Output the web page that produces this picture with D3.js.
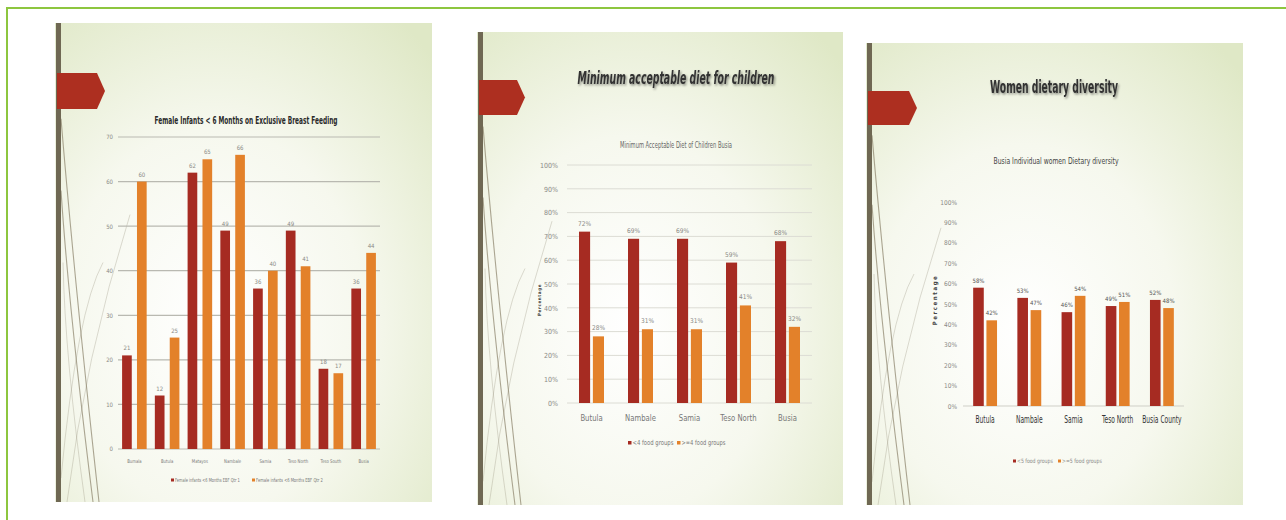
<!DOCTYPE html>
<html><head><meta charset="utf-8">
<script src="https://cdn.jsdelivr.net/npm/d3@7"></script>
<style>html,body{margin:0;padding:0;background:#fff;}svg{display:block;}</style>
</head><body>
<svg id="c" width="1286" height="520"></svg>
<script>
// ---------- DATA ----------
// Panel 1: Female Infants < 6 Months on Exclusive Breast Feeding
const p1Title = "Female Infants < 6 Months on Exclusive Breast Feeding";
const p1Categories = ["Bumala","Butula","Matayos","Nambale","Samia","Teso North","Teso South","Busia"];
const p1Qtr1 = [21,12,62,49,36,49,18,36];
const p1Qtr2 = [60,25,65,66,40,41,17,44];
const p1Ticks = [0,10,20,30,40,50,60,70];
const p1Series = ["Female infants <6 Months EBF Qtr 1","Female infants <6 Months EBF Qtr 2"];

// Panel 2: Minimum acceptable diet for children
const p2SlideTitle = "Minimum acceptable diet for children";
const p2Title = "Minimum Acceptable Diet of Children Busia";
const p2Categories = ["Butula","Nambale","Samia","Teso North","Busia"];
const p2Below = [0.72,0.69,0.69,0.59,0.68];
const p2Above = [0.28,0.31,0.31,0.41,0.32];
const p2Ticks = [0,0.1,0.2,0.3,0.4,0.5,0.6,0.7,0.8,0.9,1.0];
const p2Series = ["<4 food groups",">=4 food groups"];

// Panel 3: Women dietary diversity
const p3SlideTitle = "Women dietary diversity";
const p3Title = "Busia Individual women Dietary diversity";
const p3Categories = ["Butula","Nambale","Samia","Teso North","Busia County"];
const p3Below = [0.58,0.53,0.46,0.49,0.52];
const p3Above = [0.42,0.47,0.54,0.51,0.48];
const p3Ticks = [0,0.1,0.2,0.3,0.4,0.5,0.6,0.7,0.8,0.9,1.0];
const p3Series = ["<5 food groups",">=5 food groups"];

const axisTitle = "Percentage";
const colors = ["#a62b22","#e3812a"];

// ---------- DRAW ----------
const NARROW = "'Liberation Sans Narrow','DejaVu Sans Condensed','Liberation Sans',sans-serif";
const svg = d3.select("#c");
const defs = svg.append("defs");
const rg = defs.append("radialGradient").attr("id","slideBg")
  .attr("cx","42%").attr("cy","62%").attr("r","80%");
rg.append("stop").attr("offset","0%").attr("stop-color","#ffffff");
rg.append("stop").attr("offset","50%").attr("stop-color","#f6f8ee");
rg.append("stop").attr("offset","100%").attr("stop-color","#dfe8c6");
const sh = defs.append("filter").attr("id","shadow").attr("x","-5%").attr("y","-20%").attr("width","110%").attr("height","150%");
sh.append("feDropShadow").attr("dx",1.2).attr("dy",1.5).attr("stdDeviation",0.9).attr("flood-color","#000").attr("flood-opacity",0.45);

// green frame
svg.append("path").attr("d","M7,520 V8 H1286").attr("fill","none")
  .attr("stroke","#8dc63f").attr("stroke-width",2);

function slide(x,y,w,h,tabY,tabH,tabW){
  const g = svg.append("g");
  g.append("rect").attr("x",x).attr("y",y).attr("width",w).attr("height",h).attr("fill","url(#slideBg)");
  const curves = [
    `M${x+44},${y+h} Q${x+20},${y+h*0.55} ${x+6},${y+h*0.2}`,
    `M${x+38},${y+h} Q${x+14},${y+h*0.6} ${x+6},${y+h*0.35}`,
    `M${x+12},${y+h} Q${x+30},${y+h*0.7} ${x+75},${y+h*0.4}`,
    `M${x+6},${y+h*0.95} Q${x+22},${y+h*0.6} ${x+48},${y+h*0.5}`,
    `M${x+30},${y+h} Q${x+10},${y+h*0.7} ${x+8},${y+h*0.5}`
  ];
  g.selectAll("path.sw").data(curves).join("path").attr("class","sw")
    .attr("d",d=>d).attr("fill","none").attr("stroke","#8a826a")
    .attr("stroke-width",(d,i)=>i<2?1.1:0.7).attr("opacity",(d,i)=>i<2?0.7:0.4);
  g.append("rect").attr("x",x+1).attr("y",y).attr("width",5).attr("height",h).attr("fill","#6f6853");
  g.append("path")
    .attr("d",`M${x+2},${tabY} H${x+tabW-8} L${x+tabW},${tabY+tabH/2} L${x+tabW-8},${tabY+tabH} H${x+2} Z`)
    .attr("fill","#ad2f20");
}

slide(55,23,377,479,73,36,50);
slide(477,32,366,473,80,35,48);
slide(866,43,377,462,91,34,51);

function barChart(o){
  const g = svg.append("g");
  const y = d3.scaleLinear().domain(o.yDomain).range(o.yRange);
  const x0 = d3.scaleBand().domain(o.categories).range(o.xRange)
    .paddingInner(o.padIn).paddingOuter(o.padOut);
  const x1 = d3.scaleBand().domain([0,1]).range([0,x0.bandwidth()]).paddingInner(o.subPad);
  if(o.grid){
    g.append("g").selectAll("line").data(o.ticks).join("line")
      .attr("x1",o.xRange[0]).attr("x2",o.xRange[1])
      .attr("y1",d=>y(d)).attr("y2",d=>y(d))
      .attr("stroke",o.gridColor).attr("stroke-width",o.gridW);
  } else {
    g.append("line").attr("x1",o.xRange[0]).attr("x2",o.xRange[1])
      .attr("y1",y(0)).attr("y2",y(0)).attr("stroke",o.gridColor).attr("stroke-width",1);
  }
  const ya = d3.axisLeft(y).tickValues(o.ticks).tickFormat(o.tickFmt).tickSize(0).tickPadding(0);
  const yg = g.append("g").attr("transform",`translate(${o.yLabelX},0)`).call(ya);
  yg.select(".domain").remove();
  yg.selectAll("text").attr("font-family",NARROW).attr("font-size",o.tickFs).attr("fill",o.tickColor);
  const xa = d3.axisBottom(x0).tickSize(0).tickPadding(0);
  const xg = g.append("g").attr("transform",`translate(0,${o.xLabelY})`).call(xa);
  xg.select(".domain").remove();
  xg.selectAll("text").attr("font-family",NARROW).attr("font-size",o.catFs).attr("fill",o.catColor)
    .attr("transform",`scale(${o.catSX},1)`);
  o.series.forEach((vals,si)=>{
    const sg = g.append("g");
    sg.selectAll("rect").data(vals).join("rect")
      .attr("x",(d,i)=>x0(o.categories[i])+x1(si))
      .attr("y",d=>y(d)).attr("width",x1.bandwidth())
      .attr("height",d=>y(0)-y(d)).attr("fill",colors[si]);
    sg.selectAll("text").data(vals).join("text")
      .attr("x",(d,i)=>x0(o.categories[i])+x1(si)+x1.bandwidth()/2)
      .attr("y",d=>y(d)-o.lblGap).attr("text-anchor","middle")
      .attr("font-family",NARROW).attr("font-size",o.lblFs).attr("fill",o.lblColor)
      .text(o.lblFmt);
  });
  g.append("text").attr("x",o.titleX).attr("y",o.titleY).attr("text-anchor","middle")
    .attr("font-family",NARROW).attr("font-size",o.titleFs).attr("font-weight",o.titleW)
    .attr("fill",o.titleColor).attr("textLength",o.titleLen).attr("lengthAdjust","spacingAndGlyphs")
    .text(o.title);
  const lg = g.append("g");
  o.legendPos.forEach((lx,i)=>{
    lg.append("rect").attr("x",lx).attr("y",o.legendY-o.mk+0.5).attr("width",o.mk).attr("height",o.mk).attr("fill",colors[i]);
    const tx = lx+o.mk+1, ty = o.legendY+1;
    const t = lg.append("text").attr("transform",`translate(${tx},${ty})`).attr("font-family",NARROW)
      .attr("font-size",o.legFs).attr("fill",o.legColor).text(o.legend[i]);
    const nat = t.node().getComputedTextLength();
    t.attr("transform",`translate(${tx},${ty}) scale(${o.legLen[i]/nat},1)`);
  });
  if(o.axisTitle){
    g.append("text").attr("transform",`translate(${o.atX},${o.atY}) rotate(-90)`)
      .attr("text-anchor","middle").attr("font-family",NARROW).attr("font-size",o.atFs)
      .attr("font-weight","bold").attr("fill","#444").attr("letter-spacing",o.atLs)
      .text(o.axisTitle);
  }
  return g;
}

// Panel 1
barChart({
  categories:p1Categories, series:[p1Qtr1,p1Qtr2],
  yDomain:[0,70], yRange:[449,137], xRange:[118,380], padIn:0.25, padOut:0.125, subPad:0.35,
  ticks:p1Ticks, tickFmt:d3.format("d"), grid:true, gridColor:"#b9b9b1", gridW:1.2,
  yLabelX:113, tickFs:6, tickColor:"#8a8a86",
  xLabelY:459, catFs:5, catSX:0.85, catColor:"#777",
  lblGap:5, lblFs:6, lblColor:"#8a8a86", lblFmt:d=>d,
  title:p1Title, titleX:246, titleY:124, titleFs:10, titleW:"bold", titleColor:"#2a2a2a", titleLen:183,
  legend:p1Series, legendPos:[171,252], legendY:481, mk:3, legFs:5.5, legColor:"#777", legLen:[65,67]
});

// Panel 2
svg.append("text").attr("x",676).attr("y",84).attr("text-anchor","middle")
  .attr("font-family",NARROW).attr("font-size",18).attr("font-weight","bold").attr("font-style","italic")
  .attr("fill","#333").attr("filter","url(#shadow)")
  .attr("textLength",197).attr("lengthAdjust","spacingAndGlyphs").text(p2SlideTitle);
barChart({
  categories:p2Categories, series:[p2Below,p2Above],
  yDomain:[0,1], yRange:[403,165], xRange:[567,812], padIn:0.49, padOut:0.245, subPad:0.2,
  ticks:p2Ticks, tickFmt:d3.format(".0%"), grid:true, gridColor:"#dcdcd4", gridW:1,
  yLabelX:558, tickFs:7, tickColor:"#8a8a86",
  xLabelY:415, catFs:9, catSX:0.85, catColor:"#777",
  lblGap:6, lblFs:6.5, lblColor:"#8a8a86", lblFmt:d3.format(".0%"),
  title:p2Title, titleX:676, titleY:148, titleFs:8, titleW:"normal", titleColor:"#666", titleLen:112,
  legend:p2Series, legendPos:[628,677], legendY:444, mk:3.5, legFs:7, legColor:"#777", legLen:[41,44],
  axisTitle:axisTitle, atX:541, atY:300, atFs:4.5, atLs:0.6
});

// Panel 3
svg.append("text").attr("x",1054).attr("y",93).attr("text-anchor","middle")
  .attr("font-family",NARROW).attr("font-size",18).attr("font-weight","bold")
  .attr("fill","#333").attr("filter","url(#shadow)")
  .attr("textLength",128).attr("lengthAdjust","spacingAndGlyphs").text(p3SlideTitle);
barChart({
  categories:p3Categories, series:[p3Below,p3Above],
  yDomain:[0,1], yRange:[406,202], xRange:[963,1184], padIn:0.46, padOut:0.23, subPad:0.2,
  ticks:p3Ticks, tickFmt:d3.format(".0%"), grid:false, gridColor:"#cfcfc7", gridW:1,
  yLabelX:957, tickFs:6.5, tickColor:"#8a8a86",
  xLabelY:416, catFs:10, catSX:0.66, catColor:"#333",
  lblGap:5, lblFs:6, lblColor:"#555", lblFmt:d3.format(".0%"),
  title:p3Title, titleX:1056, titleY:164, titleFs:8.5, titleW:"normal", titleColor:"#444", titleLen:125,
  legend:p3Series, legendPos:[1013,1058], legendY:462, mk:3, legFs:6, legColor:"#888", legLen:[36,40],
  axisTitle:axisTitle, atX:937, atY:300, atFs:6, atLs:1.6
});
</script>
</body></html>
